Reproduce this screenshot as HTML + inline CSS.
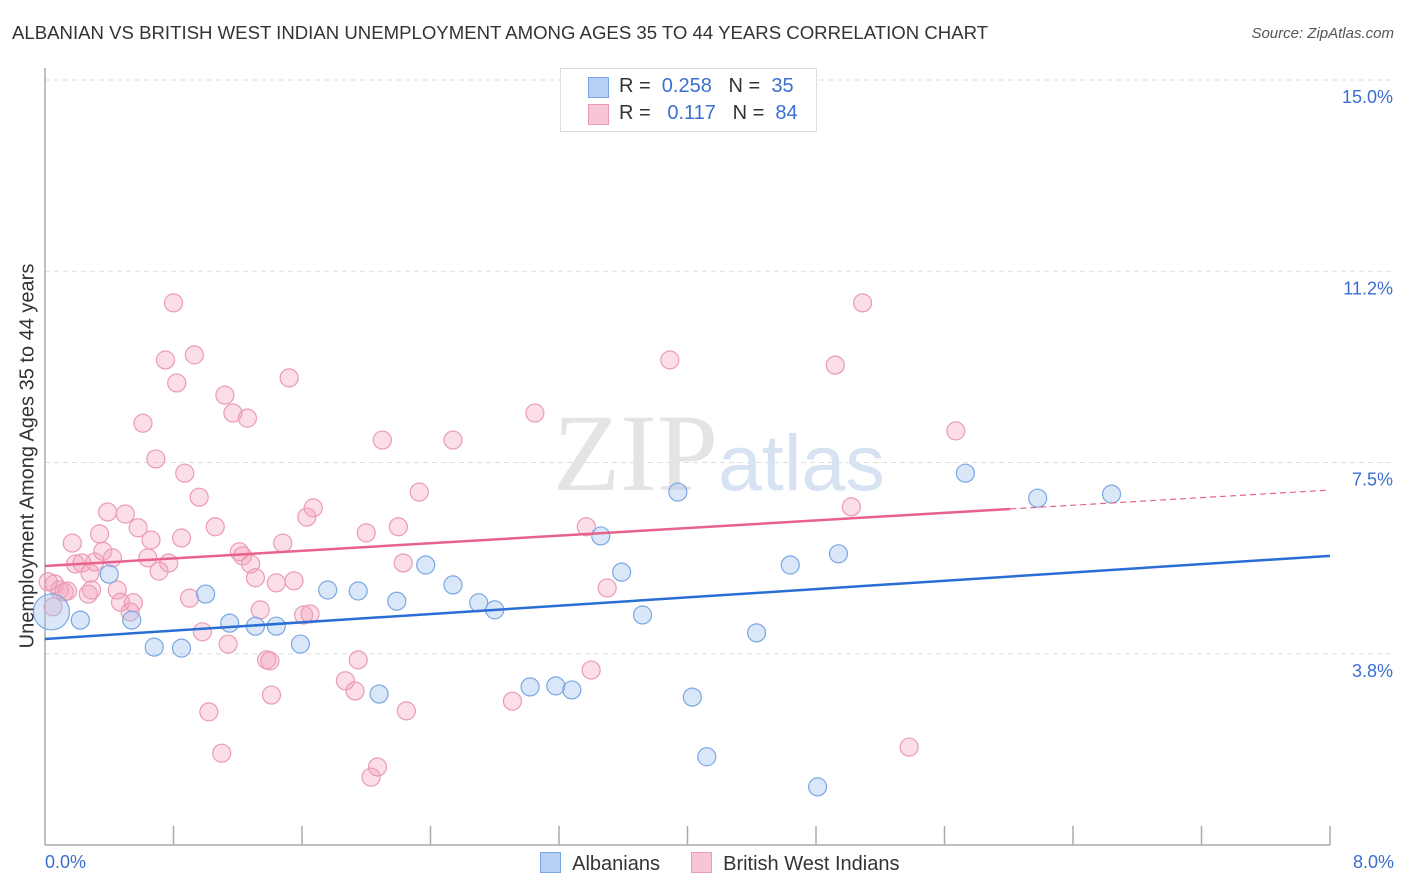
<!DOCTYPE html>
<html><head><meta charset="utf-8"><style>
body{margin:0;background:#fff;font-family:"Liberation Sans",sans-serif;}
#wrap{position:relative;width:1406px;height:892px;overflow:hidden;}
.t{position:absolute;white-space:nowrap;}
</style></head><body>
<div id="wrap">
<div class="t" style="left:12px;top:22px;font-size:18.6px;color:#333;">ALBANIAN VS BRITISH WEST INDIAN UNEMPLOYMENT AMONG AGES 35 TO 44 YEARS CORRELATION CHART</div>
<div class="t" style="right:12px;top:25px;font-size:15px;color:#555;font-style:italic;">Source: ZipAtlas.com</div>
<svg id="svg" width="1406" height="892" style="position:absolute;left:0;top:0"></svg>
</div>
<script>
const blueX=[0.04,0.22,0.4,0.54,0.68,0.85,1.0,1.15,1.31,1.44,1.59,1.76,1.95,2.08,2.19,2.37,2.54,2.70,2.80,3.02,3.18,3.28,3.46,3.59,3.72,3.94,4.03,4.12,4.43,4.64,4.81,4.94,5.73,6.18,6.64];
const blueY=[4.57,4.41,5.31,4.41,3.88,3.86,4.92,4.35,4.29,4.29,3.94,5.0,4.98,2.96,4.78,5.49,5.10,4.75,4.61,3.10,3.12,3.04,6.06,5.35,4.51,6.92,2.90,1.73,4.16,5.49,1.14,5.71,7.29,6.80,6.88];
const pinkX=[0.05,0.06,0.09,0.12,0.14,0.17,0.19,0.23,0.27,0.28,0.31,0.34,0.36,0.39,0.42,0.45,0.47,0.50,0.53,0.55,0.58,0.61,0.64,0.66,0.69,0.71,0.75,0.77,0.80,0.82,0.85,0.87,0.90,0.93,0.96,0.98,1.02,1.06,1.10,1.12,1.14,1.17,1.21,1.23,1.26,1.28,1.31,1.34,1.38,1.40,1.41,1.44,1.48,1.52,1.55,1.61,1.63,1.65,1.67,1.87,1.93,1.95,2.00,2.03,2.07,2.10,2.20,2.23,2.25,2.33,2.54,2.91,3.05,3.37,3.40,3.50,3.89,5.02,4.92,5.09,5.38,5.67,0.02,0.29];
const pinkY=[4.67,5.12,5.0,4.96,4.98,5.92,5.51,5.53,4.92,5.33,5.55,6.10,5.76,6.53,5.63,5.0,4.76,6.49,4.57,4.75,6.22,8.27,5.63,5.98,7.57,5.37,9.51,5.53,10.63,9.06,6.02,7.29,4.84,9.61,6.82,4.18,2.61,6.24,1.80,8.82,3.94,8.47,5.75,5.67,8.37,5.51,5.24,4.61,3.63,3.61,2.94,5.14,5.92,9.16,5.18,4.51,6.43,4.53,6.61,3.22,3.02,3.63,6.12,1.33,1.53,7.94,6.24,5.53,2.63,6.92,7.94,2.82,8.47,6.24,3.43,5.04,9.51,6.63,9.41,10.63,1.92,8.12,5.16,5.0];
const blueTrend=[4.04,5.67];
const pinkTrend=[5.47,6.96];
const pinkSolidEnd=6.01;
const yTicks=[15,11.25,7.5,3.75];
const yTickLabels=["15.0%","11.2%","7.5%","3.8%"];
const NS="http://www.w3.org/2000/svg";
const svg=document.getElementById('svg');
const X0=45,X1=1330,Y0=845,Y1=80;
const sx=v=>X0+(v/8)*(X1-X0);
const sy=v=>Y0-(v/15)*(Y0-Y1);
function mk(tag,attrs,parent){const e=document.createElementNS(NS,tag);for(const k in attrs)e.setAttribute(k,attrs[k]);(parent||svg).appendChild(e);return e;}
yTicks.forEach((t,i)=>{
 const g=mk('line',{x1:X0,x2:1395,y1:sy(t),y2:sy(t),stroke:'#ddd','stroke-dasharray':'5,4'});
 
 
 const tx=mk('text',{x:1393,y:sy(t)+23,'text-anchor':'end','font-size':18,fill:'#3a6fd1','font-family':'Liberation Sans, sans-serif'});
 tx.textContent=yTickLabels[i];
 
 
});
const ax=mk('line',{x1:X0,x2:X0,y1:68,y2:Y0,stroke:'#aaa','stroke-width':1.5});


const bx=mk('line',{x1:X0,x2:X1,y1:Y0,y2:Y0,stroke:'#aaa','stroke-width':1.5});


for(let i=1;i<=10;i++){const tk=mk('line',{x1:sx(i*0.8),x2:sx(i*0.8),y1:826,y2:Y0,stroke:'#aaa','stroke-width':1.5});
 
 }
const wm=mk('text',{x:553,y:490,'font-size':110,'font-family':'Liberation Serif, serif',fill:'#e4e4e4'});
wm.textContent='ZIP';


const wm2=mk('text',{x:718,y:490,'font-size':79,'font-family':'Liberation Sans, sans-serif',fill:'#d7e3f3'});
wm2.textContent='atlas';


pinkX.forEach((x,i)=>{const c=mk('circle',{cx:sx(x),cy:sy(pinkY[i]),r:9,fill:'rgba(244,160,185,0.35)',stroke:'#eb9bb4','stroke-width':1.2});
 
 });
blueX.forEach((x,i)=>{const c=mk('circle',{cx:sx(x),cy:sy(blueY[i]),r:i==0?18:9,fill:'rgba(160,195,240,0.4)',stroke:'#7aa7e3','stroke-width':1.2});
 
 });
const bt=mk('line',{x1:sx(0),y1:sy(blueTrend[0]),x2:sx(8),y2:sy(blueTrend[1]),stroke:'#2a6dd4','stroke-width':2.5});


const pm=v=>pinkTrend[0]+(pinkTrend[1]-pinkTrend[0])*v/8;
const pt=mk('line',{x1:sx(0),y1:sy(pinkTrend[0]),x2:sx(pinkSolidEnd),y2:sy(pm(pinkSolidEnd)),stroke:'#e8628c','stroke-width':2.5});


const pd=mk('line',{x1:sx(pinkSolidEnd),y1:sy(pm(pinkSolidEnd)),x2:sx(8),y2:sy(pinkTrend[1]),stroke:'#e8628c','stroke-width':1.2,'stroke-dasharray':'6,4'});


</script>
<div class="t" style="left:28px;top:456px;font-size:20px;color:#333;transform:translate(-50%,-50%) rotate(-90deg);">Unemployment Among Ages 35 to 44 years</div>
<div class="t" style="left:45px;top:852px;font-size:18px;color:#3a6fd1;">0.0%</div>
<div class="t" style="right:12px;top:852px;font-size:18px;color:#3a6fd1;">8.0%</div>
<div style="position:absolute;left:560px;top:68px;width:255px;height:62px;border:1px solid #ddd;background:#fff;font-size:20px;color:#333;">
 <div style="position:absolute;left:27px;top:8px;width:19px;height:19px;background:#b7d0f3;border:1px solid #7aa7e3;"></div>
 <div class="t" style="left:58px;top:6px;">R = <span style="color:#3a6fd1">&nbsp;0.258</span>&nbsp;&nbsp;&nbsp;N = <span style="color:#3a6fd1">&nbsp;35</span></div>
 <div style="position:absolute;left:27px;top:35px;width:19px;height:19px;background:#f8c5d4;border:1px solid #eb9bb4;"></div>
 <div class="t" style="left:58px;top:33px;">R = <span style="color:#3a6fd1">&nbsp;&nbsp;0.117</span>&nbsp;&nbsp;&nbsp;N = <span style="color:#3a6fd1">&nbsp;84</span></div>
</div>
<div style="position:absolute;left:540px;top:852px;font-size:20px;color:#333;">
 <span style="display:inline-block;width:19px;height:19px;background:#b7d0f3;border:1px solid #7aa7e3;vertical-align:-3px;"></span>&nbsp;&nbsp;Albanians</div>
<div style="position:absolute;left:691px;top:852px;font-size:20px;color:#333;">
 <span style="display:inline-block;width:19px;height:19px;background:#f8c5d4;border:1px solid #eb9bb4;vertical-align:-3px;"></span>&nbsp;&nbsp;British West Indians</div>
</body></html>
